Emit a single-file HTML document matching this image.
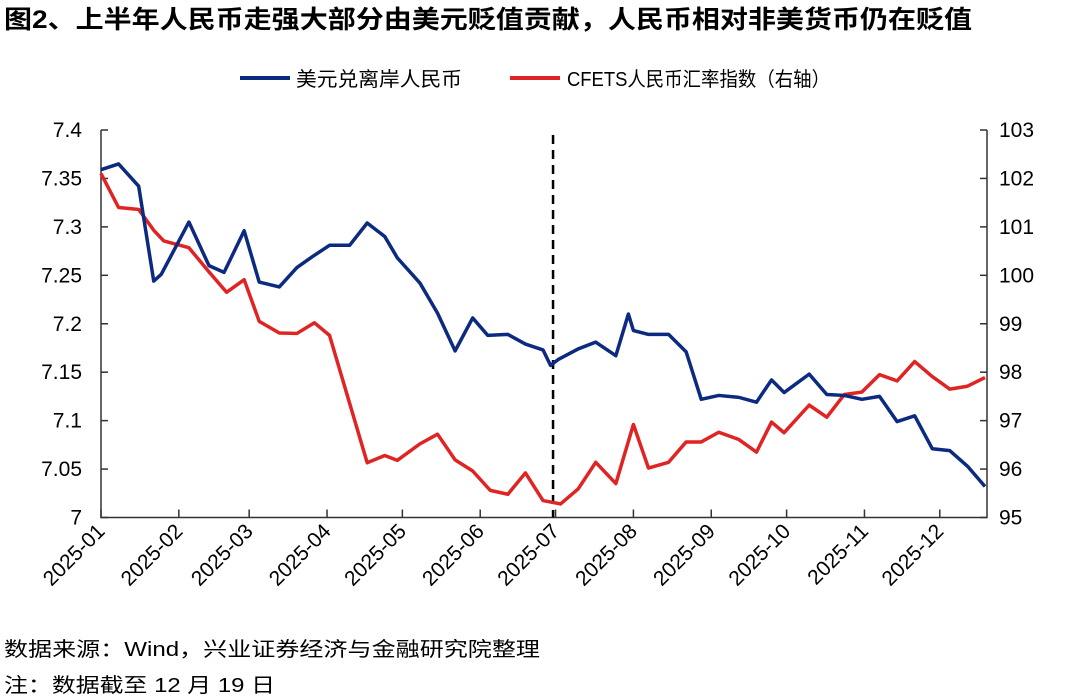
<!DOCTYPE html>
<html><head><meta charset="utf-8"><style>
body{margin:0;background:#fff;width:1080px;height:700px;overflow:hidden;font-family:"Liberation Sans","Noto Sans CJK SC",sans-serif;}
svg{position:absolute;left:0;top:0}
</style></head><body>
<svg id="c" width="1080" height="700"></svg>
<script>
const monthLabels=["2025-01","2025-02","2025-03","2025-04","2025-05","2025-06","2025-07","2025-08","2025-09","2025-10","2025-11","2025-12"];
const monthDays=[0,31,59,90,120,151,181,212,243,273,304,334];
const leftTicks=[7,7.05,7.1,7.15,7.2,7.25,7.3,7.35,7.4];
const rightTicks=[95,96,97,98,99,100,101,102,103];
const usdDays=[0,7,15,21,24,35,43,49,57,63,71,78,84,91,99,106,113,118,127,134,141,148,154,162,169,176,179,182,190,197,205,210,212,218,226,233,239,246,254,261,267,272,282,289,296,303,310,317,324,331,338,345,352];
const usdCny=[7.359,7.365,7.342,7.244,7.251,7.305,7.260,7.253,7.296,7.243,7.238,7.258,7.269,7.281,7.281,7.304,7.290,7.268,7.242,7.211,7.172,7.206,7.188,7.189,7.179,7.173,7.157,7.163,7.174,7.181,7.167,7.210,7.193,7.189,7.189,7.171,7.122,7.126,7.124,7.119,7.142,7.129,7.148,7.127,7.126,7.122,7.125,7.099,7.105,7.071,7.069,7.053,7.032];
const cfetsDays=[0,7,15,21,25,35,43,50,57,63,71,78,85,91,106,113,118,127,134,141,148,155,162,169,176,183,190,197,205,212,218,226,233,239,246,254,261,267,272,282,289,296,303,310,317,324,331,338,345,352];
const cfets=[102.1,101.4,101.36,100.93,100.71,100.57,100.07,99.65,99.91,99.05,98.81,98.80,99.02,98.76,96.13,96.28,96.18,96.52,96.72,96.19,95.96,95.56,95.48,95.92,95.35,95.28,95.59,96.14,95.70,96.92,96.02,96.14,96.56,96.56,96.76,96.61,96.35,96.97,96.75,97.32,97.07,97.54,97.59,97.95,97.82,98.22,97.91,97.65,97.71,97.89];
const splitDay=180;

const NS="http://www.w3.org/2000/svg";
const svg=document.getElementById('c');
const X0=101,X1=987,Y0=517.5,Y1=130,DMAX=352;
const xs=d=>X0+(d/DMAX)*(985-X0);
const yl=v=>Y0-(v-7)/0.4*(Y0-Y1);
const yr=v=>Y0-(v-95)/8*(Y0-Y1);
function el(t,a,p){const e=document.createElementNS(NS,t);for(const k in a)e.setAttribute(k,a[k]);(p||svg).appendChild(e);return e;}
function txt(s,a){const e=el('text',a);e.textContent=s;return e;}

let t=txt("图2、上半年人民币走强大部分由美元贬值贡献，人民币相对非美货币仍在贬值",{x:4,y:28,'font-size':25,'font-weight':'bold',fill:'#000',textLength:968,lengthAdjust:'spacingAndGlyphs'});


let g=el('g',{});
el('line',{x1:240,y1:78,x2:290,y2:78,stroke:'#0c2a80','stroke-width':4},g);
let l1=txt("美元兑离岸人民币",{x:296,y:86,'font-size':20,fill:'#000',textLength:166,lengthAdjust:'spacingAndGlyphs'});g.appendChild(l1);

el('line',{x1:510,y1:78,x2:560,y2:78,stroke:'#e02424','stroke-width':4},g);
let l2=txt("CFETS人民币汇率指数（右轴）",{x:567,y:86,'font-size':20,fill:'#000',textLength:263,lengthAdjust:'spacingAndGlyphs'});g.appendChild(l2);


let ax=el('path',{d:`M${X0} ${Y1}V${Y0}H${X1}V${Y1}`,fill:'none',stroke:'#333','stroke-width':1.5});

leftTicks.forEach(v=>{const y=yl(v);el('line',{x1:X0,y1:y,x2:X0+7,y2:y,stroke:'#333','stroke-width':1.5});
 const e=txt(String(v),{x:82,y:y+7,'font-size':21,'text-anchor':'end',fill:'#000'});
 });
rightTicks.forEach(v=>{const y=yr(v);el('line',{x1:X1-7,y1:y,x2:X1,y2:y,stroke:'#333','stroke-width':1.5});
 const e=txt(String(v),{x:999,y:y+7,'font-size':21,fill:'#000'});
 });
monthDays.forEach((d,i)=>{const x=xs(d);el('line',{x1:x,y1:Y0,x2:x,y2:Y0-8,stroke:'#333','stroke-width':1.5});
 const e=txt(monthLabels[i],{x:x+5,y:Y0+15,'font-size':21,'text-anchor':'end',fill:'#000',transform:`rotate(-45 ${x+5} ${Y0+15})`});
 });

let dl=el('line',{x1:xs(splitDay),y1:Y1+5,x2:xs(splitDay),y2:Y0,stroke:'#000','stroke-width':2.5,'stroke-dasharray':'9,6'});


let p2=el('polyline',{points:cfetsDays.map((d,i)=>xs(d)+','+yr(cfets[i])).join(' '),fill:'none',stroke:'#e02424','stroke-width':3.5,'stroke-linejoin':'round'});

let p1=el('polyline',{points:usdDays.map((d,i)=>xs(d)+','+yl(usdCny[i])).join(' '),fill:'none',stroke:'#0c2a80','stroke-width':3.5,'stroke-linejoin':'round'});


let s1=txt("数据来源：Wind，兴业证券经济与金融研究院整理",{x:4,y:656,'font-size':20,fill:'#000',textLength:536,lengthAdjust:'spacingAndGlyphs'});

let s2=txt("注：数据截至 12 月 19 日",{x:4,y:692,'font-size':20,fill:'#000',textLength:271,lengthAdjust:'spacingAndGlyphs'});

</script>
</body></html>
